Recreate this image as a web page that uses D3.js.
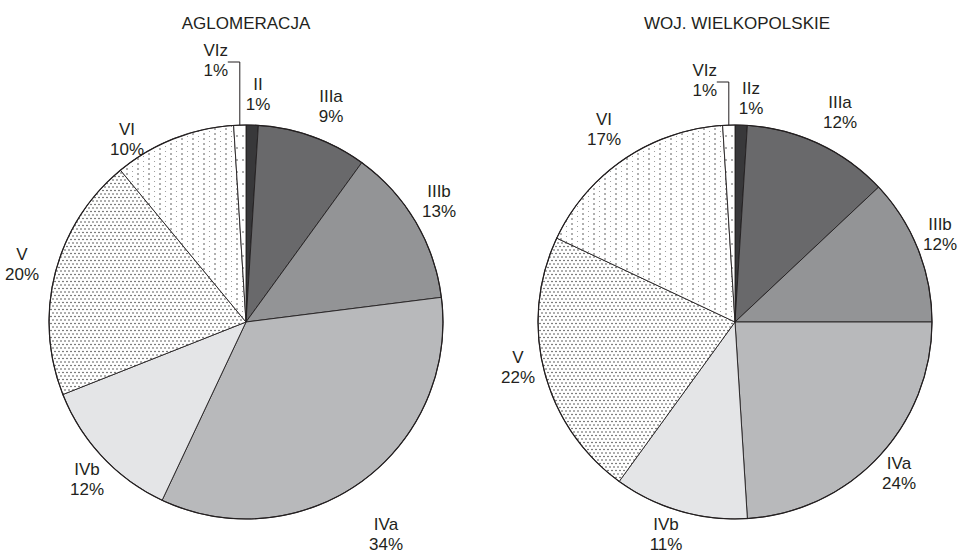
<!DOCTYPE html>
<html>
<head>
<meta charset="utf-8">
<script src="https://cdn.jsdelivr.net/npm/d3@7"></script>
<style>
  html, body { margin: 0; padding: 0; background: #fff; }
  svg text { font-family: "Liberation Sans", Arial, sans-serif; fill: #231f20; }
</style>
</head>
<body>
<svg id="chart" width="963" height="553"></svg>
<script>
// Shares of soil classes (%) — clockwise from 12 o'clock
const titles = ["AGLOMERACJA", "WOJ. WIELKOPOLSKIE"];
const classesAglo = ["II", "IIIa", "IIIb", "IVa", "IVb", "V", "VI", "VIz"];
const valuesAglo  = [1, 9, 13, 34, 12, 20, 10, 1];
const classesWoj  = ["IIz", "IIIa", "IIIb", "IVa", "IVb", "V", "VI", "VIz"];
const valuesWoj   = [1, 12, 12, 24, 11, 22, 17, 1];

// Fill style per class position (solid greys, then dotted textures)
const fills = ["#38383a", "#69696b", "#939496", "#b8b9bb", "#e4e5e7",
               "url(#dotsDense)", "url(#dotsSparse)", "url(#dotsColumn)"];

// Layout: pie centres, radius and label block centres (offsets from centre)
const R = 197;
const layouts = [
  { cx: 246, cy: 322, titleX: 246,
    labels: [[12, -228], [85, -216], [193, -121], [140, 212], [-159, 157], [-224, -58], [-119, -183], null],
    leaderY: 62 },
  { cx: 735, cy: 322, titleX: 737,
    labels: [[16, -224], [105, -210], [205, -88], [164, 151], [-69, 212], [-217, 45], [-131, -193], null],
    leaderY: 82 }
];

const svg = d3.select("#chart");
const defs = svg.append("defs");

// Dense staggered dots
const pd = defs.append("pattern").attr("id", "dotsDense")
  .attr("patternUnits", "userSpaceOnUse").attr("width", 8).attr("height", 7);
pd.append("rect").attr("width", 8).attr("height", 7).attr("fill", "#fff");
[[1, 1.5], [5, 1.5], [3, 5], [7, 5]].forEach(([x, y]) =>
  pd.append("circle").attr("cx", x).attr("cy", y).attr("r", 0.8).attr("fill", "#4a4a4a"));

// Sparse column dots
const ps = defs.append("pattern").attr("id", "dotsSparse")
  .attr("patternUnits", "userSpaceOnUse").attr("width", 11).attr("height", 10);
ps.append("rect").attr("width", 11).attr("height", 10).attr("fill", "#fff");
[[2, 2, 0.8, "#4a4a4a"], [2, 7, 0.8, "#4a4a4a"], [7.5, 4.5, 0.55, "#8a8a8a"], [7.5, 9.5, 0.55, "#8a8a8a"]]
  .forEach(([x, y, r, c]) => ps.append("circle").attr("cx", x).attr("cy", y).attr("r", r).attr("fill", c));

// Single column dots for the narrowest slice
const pc = defs.append("pattern").attr("id", "dotsColumn")
  .attr("patternUnits", "userSpaceOnUse").attr("width", 6).attr("height", 12);
pc.append("rect").attr("width", 6).attr("height", 12).attr("fill", "#fff");
pc.append("circle").attr("cx", 3).attr("cy", 6).attr("r", 0.8).attr("fill", "#4a4a4a");

const pie = d3.pie().sort(null).value(d => d.value);
const arc = d3.arc().innerRadius(0).outerRadius(R);

function drawPie(classes, values, title, L) {
  const data = classes.map((c, i) => ({ cls: c, value: values[i], idx: i }));
  const g = svg.append("g").attr("transform", `translate(${L.cx},${L.cy})`);
  const arcs = pie(data);

  g.selectAll("path.slice").data(arcs).join("path")
    .attr("class", "slice")
    .attr("d", arc)
    .attr("fill", d => fills[d.data.idx])
    .attr("stroke", "#231f20")
    .attr("stroke-width", 0.9)
    .attr("stroke-linejoin", "round");

  g.append("circle").attr("r", R).attr("fill", "none")
    .attr("stroke", "#231f20").attr("stroke-width", 1.2);

  arcs.forEach((d, i) => {
    let x, b1;
    if (L.labels[i]) {
      x = L.labels[i][0];
      b1 = L.labels[i][1] - 4;
    } else {
      // leader from slice edge straight up, then left to the label
      const mid = (d.startAngle + d.endAngle) / 2;
      const px = Math.sin(mid) * R, py = -Math.cos(mid) * R;
      const ly = L.leaderY - L.cy;
      g.append("polyline")
        .attr("points", `${px},${py} ${px},${ly} ${px - 12},${ly}`)
        .attr("fill", "none").attr("stroke", "#231f20").attr("stroke-width", 1);
      x = px - 12 - 12;
      b1 = ly - 6;
    }
    const t = g.append("text").attr("text-anchor", "middle").attr("font-size", 17);
    t.append("tspan").attr("x", x).attr("y", b1).text(d.data.cls);
    t.append("tspan").attr("x", x).attr("y", b1 + 20).text(d.data.value + "%");
  });

  svg.append("text").attr("x", L.titleX).attr("y", 29)
    .attr("text-anchor", "middle").attr("font-size", 17).text(title);
}

drawPie(classesAglo, valuesAglo, titles[0], layouts[0]);
drawPie(classesWoj, valuesWoj, titles[1], layouts[1]);
</script>
</body>
</html>
